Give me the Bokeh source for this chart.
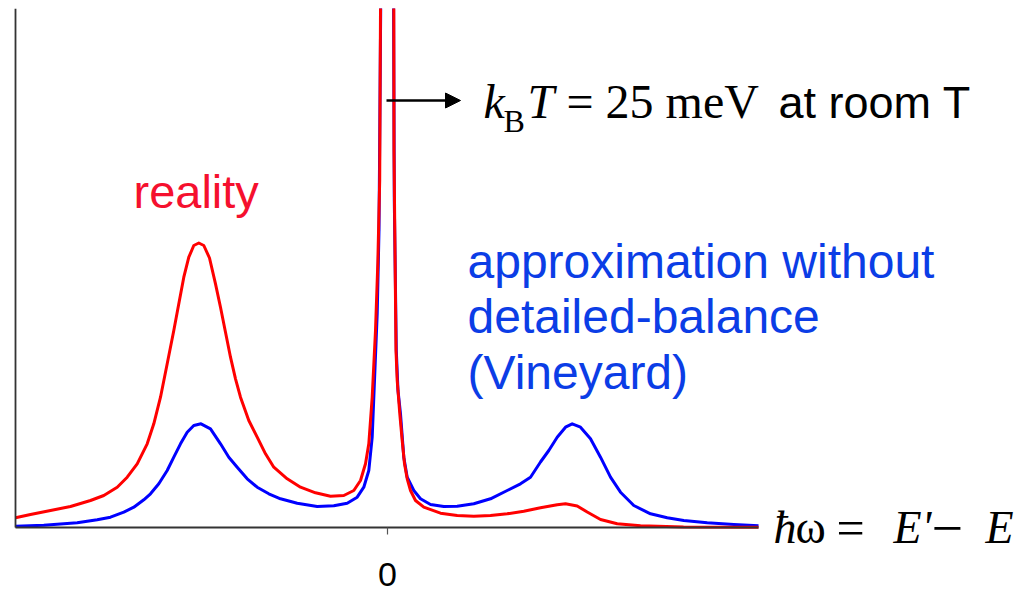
from bokeh.plotting import figure
from bokeh.models import Range1d, FixedTicker, Label, Arrow, NormalHead
from bokeh.embed import file_html
from bokeh.resources import INLINE

# energy transfer (arbitrary units) and scattered intensity (arbitrary units)
red_x = [-3.72, -3.57, -3.37, -3.17, -2.97, -2.837, -2.703, -2.603, -2.503, -2.403,
         -2.337, -2.27, -2.203, -2.137, -2.087, -2.037, -1.987, -1.937, -1.887, -1.837,
         -1.78, -1.72, -1.67, -1.62, -1.57, -1.52, -1.47, -1.387, -1.303, -1.22,
         -1.137, -1.003, -0.87, -0.72, -0.57, -0.437, -0.337, -0.27, -0.22, -0.187,
         -0.153, -0.12, -0.097, -0.078, -0.07, 0.0, 0.063, 0.065, 0.07, 0.085,
         0.097, 0.123, 0.147, 0.17, 0.197, 0.23, 0.28, 0.363, 0.53, 0.697,
         0.863, 1.03, 1.197, 1.363, 1.53, 1.697, 1.78, 1.897, 1.997, 2.13,
         2.297, 2.53, 2.96, 3.71]
red_y = [0.194, 0.26, 0.34, 0.42, 0.54, 0.64, 0.806, 1.006, 1.274, 1.674,
         2.074, 2.606, 3.274, 3.94, 4.474, 5.006, 5.406, 5.64, 5.69, 5.64,
         5.39, 4.874, 4.406, 3.906, 3.406, 2.974, 2.606, 2.14, 1.806, 1.474,
         1.206, 0.974, 0.806, 0.694, 0.626, 0.64, 0.74, 0.94, 1.274, 1.674,
         2.606, 3.94, 5.274, 6.94, 10.38, 40.0, 10.38, 7.54, 6.54, 3.54,
         2.94, 2.274, 1.74, 1.274, 0.974, 0.74, 0.54, 0.406, 0.286, 0.24,
         0.226, 0.24, 0.274, 0.326, 0.394, 0.454, 0.474, 0.43, 0.31, 0.16,
         0.074, 0.034, 0.01, 0.005]

blue_x = [-3.72, -3.437, -3.103, -2.903, -2.77, -2.637, -2.537, -2.437, -2.37, -2.287,
          -2.203, -2.137, -2.07, -2.003, -1.937, -1.865, -1.77, -1.67, -1.587, -1.503,
          -1.403, -1.303, -1.187, -1.07, -0.903, -0.703, -0.537, -0.403, -0.303, -0.237,
          -0.187, -0.153, -0.13, -0.103, -0.085, -0.068, 0.0, 0.061, 0.068, 0.088,
          0.105, 0.13, 0.163, 0.197, 0.263, 0.33, 0.43, 0.563, 0.697, 0.863,
          1.03, 1.197, 1.33, 1.43, 1.53, 1.613, 1.697, 1.78, 1.847, 1.93,
          2.03, 2.13, 2.23, 2.33, 2.463, 2.63, 2.797, 2.963, 3.197, 3.463,
          3.71]
blue_y = [0.026, 0.046, 0.094, 0.154, 0.206, 0.306, 0.406, 0.554, 0.674, 0.874,
          1.14, 1.406, 1.674, 1.906, 2.04, 2.074, 1.974, 1.674, 1.406, 1.206,
          0.974, 0.806, 0.674, 0.574, 0.486, 0.42, 0.434, 0.486, 0.606, 0.806,
          1.14, 1.806, 2.94, 4.274, 5.94, 10.38, 40.0, 10.38, 6.54, 3.54,
          2.74, 2.274, 1.406, 1.006, 0.74, 0.574, 0.46, 0.42, 0.426, 0.474,
          0.574, 0.74, 0.874, 1.006, 1.31, 1.54, 1.806, 2.006, 2.074, 2.006,
          1.774, 1.406, 1.006, 0.706, 0.44, 0.274, 0.194, 0.14, 0.094, 0.06,
          0.036]

x_ticks = [0]
x_axis_bounds = (-3.72, 3.71)
y_axis_bounds = (0, 10.38)

p = figure(width=1028, height=591, x_range=Range1d(-3.87, 6.41), y_range=Range1d(-1.28, 10.38),
           output_backend="svg", toolbar_location=None,
           min_border_left=0, min_border_right=0, min_border_top=8, min_border_bottom=0)
p.outline_line_color = None
p.grid.visible = False
p.background_fill_color = "white"
p.border_fill_color = "white"

# axes
for ax in (p.xaxis, p.yaxis):
    ax.axis_line_color = "#333333"
    ax.axis_line_width = 1.8
    ax.minor_tick_line_color = None
p.xaxis.fixed_location = 0
p.xaxis.bounds = x_axis_bounds
p.xaxis.ticker = FixedTicker(ticks=x_ticks)
p.xaxis.major_tick_in = 0
p.xaxis.major_tick_out = 7
p.xaxis.major_tick_line_color = "#555555"
p.xaxis.major_tick_line_width = 1.2
p.xaxis.major_label_standoff = 28
p.xaxis.major_label_text_font = "Liberation Sans"
p.xaxis.major_label_text_font_size = "34px"
p.xaxis.major_label_text_color = "black"
p.yaxis.fixed_location = x_axis_bounds[0]
p.yaxis.bounds = y_axis_bounds
p.yaxis.ticker = FixedTicker(ticks=[])
p.yaxis.major_tick_in = 0
p.yaxis.major_tick_out = 0
p.yaxis.major_label_standoff = 0

p.line(blue_x, blue_y, line_color="#0000FF", line_width=3, line_join="round")
p.line(red_x, red_y, line_color="#FF0000", line_width=3, line_join="round")

def lab(text, x, y, font, size, color="black", style="normal"):
    p.add_layout(Label(x=x, y=y, text=text, text_font=font, text_font_size=size,
                       text_color=color, text_font_style=style, text_baseline="alphabetic",
                       text_align="left"))

lab("reality", -2.54, 6.72, "Liberation Sans", "47px", color="#F5102E")
lab("approximation without", 0.80, 5.32, "Liberation Sans", "48px", color="#0B3DE6")
lab("detailed-balance", 0.80, 4.22, "Liberation Sans", "48px", color="#0B3DE6")
lab("(Vineyard)", 0.80, 3.10, "Liberation Sans", "48px", color="#0B3DE6")

# k_B T = 25 meV at room T
lab("k", 0.96, 8.52, "Liberation Serif", "48px", style="italic")
lab("B", 1.16, 8.14, "Liberation Serif", "32px")
lab("T", 1.40, 8.52, "Liberation Serif", "48px", style="italic")
lab("= 25 meV", 1.79, 8.52, "Liberation Serif", "48px")
lab("at room T", 3.91, 8.50, "Liberation Sans", "45px")

p.add_layout(Arrow(end=NormalHead(size=15, fill_color="black", line_color="black"),
                   x_start=-0.01, y_start=8.54, x_end=0.73, y_end=8.54,
                   line_width=2.5, line_color="black"))

# hbar omega = E' - E
ylab = 0.0
lab("\u0127", 3.86, ylab, "Liberation Serif", "46px", style="italic")
lab("\u03c9", 4.08, ylab, "Liberation Serif", "46px")
lab("=", 4.49, ylab, "Liberation Serif", "50px")
lab("E'", 5.06, ylab, "Liberation Serif", "46px", style="italic")
lab("\u2212", 5.44, ylab, "Liberation Serif", "56px")
lab("E", 5.98, ylab, "Liberation Serif", "46px", style="italic")

open("out.html", "w").write(file_html(p, INLINE))
